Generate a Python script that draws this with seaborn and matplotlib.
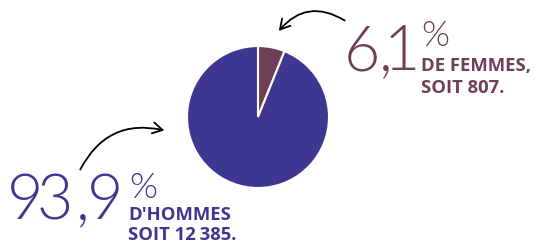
import matplotlib
matplotlib.use("Agg")
import matplotlib.pyplot as plt
from matplotlib.patches import FancyArrowPatch
import seaborn as sns

# Data
labels = ["Femmes", "Hommes"]
shares = [6.1, 93.9]
counts = [807, 12385]
colors = ["#6e3f55", "#3e3792"]

W, H = 543, 243
sns.set_theme(style="white")

fig = plt.figure(figsize=(W / 100, H / 100), dpi=100)

# pie axes placed in pixel units
cx, cy, r = 258, 117, 71
pie_ax = fig.add_axes([(cx - r) / W, (H - cy - r) / H, 2 * r / W, 2 * r / H])
pie_ax.pie(shares, colors=colors, startangle=90, counterclock=False,
           wedgeprops=dict(edgecolor="white", linewidth=1.5))
pie_ax.set_xlim(-1, 1)
pie_ax.set_ylim(-1, 1)
pie_ax.set_axis_off()

# overlay axes in pixel coords for text + arrows
ax = fig.add_axes([0, 0, 1, 1])
ax.set_xlim(0, W)
ax.set_ylim(H, 0)
ax.set_axis_off()
ax.patch.set_alpha(0)

big = dict(family="Lato", fontweight=300, fontsize=45)
pct = dict(family="Lato", fontweight=300, fontsize=26)
bold = dict(family="Open Sans", fontweight="bold", fontsize=13.3)


def fmt(v):
    return f"{v:.1f}".replace(".", ",")


def tight_number(s, centers, y, color):
    # big light digits set tight, one glyph at a time
    for ch, x in zip(s, centers):
        ax.text(x, y, ch, color=color, va="baseline", ha="center", **big)


# women
tight_number(fmt(shares[0]), [362, 386, 402], 70, colors[0])
ax.text(421, 46, "%", color=colors[0], va="baseline", ha="left", **pct)
ax.text(421, 71, "DE FEMMES,", color=colors[0], va="baseline", ha="left", **bold)
ax.text(421, 93, f"SOIT {counts[0]}.", color=colors[0], va="baseline", ha="left", **bold)

# men
tight_number(fmt(shares[1]), [25, 55, 83, 105], 219, colors[1])
ax.text(129, 198, "%", color=colors[1], va="baseline", ha="left", **pct)
n = f"{counts[1]:,}".replace(",", "\u2009")
ax.text(128, 220, "D'HOMMES", color=colors[1], va="baseline", ha="left", **bold)
ax.text(128, 240, f"SOIT {n}.", color=colors[1], va="baseline", ha="left", **bold)

# arrows
ax.add_patch(FancyArrowPatch((347, 22), (277, 33), connectionstyle="arc3,rad=0.45",
                             arrowstyle="->,head_length=7,head_width=4",
                             color="black", lw=1.3))
ax.add_patch(FancyArrowPatch((79, 172), (167, 131), connectionstyle="arc3,rad=-0.4",
                             arrowstyle="->,head_length=7,head_width=4",
                             color="black", lw=1.3))

fig.savefig("out.png", dpi=100)
